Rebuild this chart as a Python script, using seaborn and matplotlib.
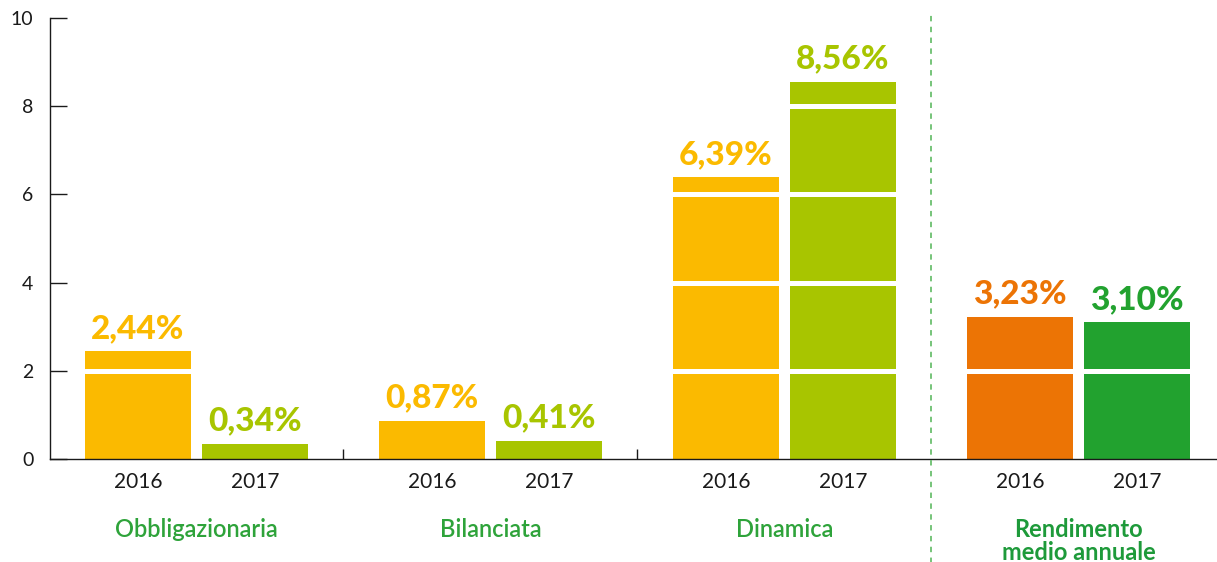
import pandas as pd
import seaborn as sns
from matplotlib import pyplot as plt
from matplotlib import transforms

# data
categorie = ["Obbligazionaria", "Bilanciata", "Dinamica", "Rendimento\nmedio annuale"]
anni = ["2016", "2017"]
valori_2016 = [2.44, 0.87, 6.39, 3.23]
valori_2017 = [0.34, 0.41, 8.56, 3.10]
colori_2016 = ["#FBBA00", "#FBBA00", "#FBBA00", "#EC7405"]
colori_2017 = ["#A8C500", "#A8C500", "#A8C500", "#22A22F"]

df = pd.DataFrame(
    {
        "categoria": categorie * 2,
        "anno": [anni[0]] * 4 + [anni[1]] * 4,
        "valore": valori_2016 + valori_2017,
    }
)

sns.set_style("ticks")
plt.rcParams["font.family"] = ["Lato", "DejaVu Sans"]

fig = plt.figure(figsize=(12.17, 5.62), dpi=100)
ax = fig.add_axes([50 / 1217, 103 / 562, 1167 / 1217, 441 / 562])

sns.barplot(
    df, x="categoria", y="valore", hue="anno",
    palette=["#FBBA00", "#A8C500"], width=0.796, gap=0.094,
    errorbar=None, legend=False, saturation=1, ax=ax,
)

# per-bar colours and value labels
xs = []
for cont, colori in zip(ax.containers, [colori_2016, colori_2017]):
    labels = [f"{b.get_height():.2f}".replace(".", ",") + "%" for b in cont]
    texts = ax.bar_label(cont, labels=labels, padding=6, fontsize=24, fontweight="black")
    for bar, txt, c in zip(cont, texts, colori):
        bar.set_facecolor(c)
        bar.set_edgecolor("none")
        txt.set_color(c)
        txt.set_zorder(6)
        xs.append(bar.get_x() + bar.get_width() / 2)

# white lines crossing the bars
for y in [2, 4, 6, 8]:
    ax.axhline(y, xmin=0.03, xmax=1, color="white", lw=3.6, zorder=3)

ax.set_ylim(0, 10)
ax.set_xlim(-0.498, 3.471)
ax.set_yticks([0, 2, 4, 6, 8, 10])
ax.tick_params(axis="y", direction="in", length=12.5, width=1, pad=12,
               labelsize=14, colors="#1a1a1a")

ax.set_xticks(sorted(xs), anni * 4)
ax.tick_params(axis="x", which="major", length=0, pad=9, labelsize=15,
               labelcolor="#1a1a1a")
ax.set_xticks([0.5, 1.5], minor=True)
ax.tick_params(axis="x", which="minor", direction="in", length=7, width=1, color="#1a1a1a")

ax.set_xlabel("")
ax.set_ylabel("")
sns.despine(ax=ax)
for s in ["left", "bottom"]:
    ax.spines[s].set_color("#1a1a1a")
    ax.spines[s].set_linewidth(1)

# group names
trans = transforms.blended_transform_factory(ax.transData, ax.transAxes)
for i, cat in enumerate(categorie):
    ultimo = i == len(categorie) - 1
    ax.text(i, -0.134, cat, transform=trans, ha="center", va="top",
            fontsize=17, linespacing=0.98,
            fontweight="bold" if ultimo else "semibold",
            color="#1E9A3A" if ultimo else "#2EA33A")

# dashed separator before the average
ax.axvline(2.5, ymin=-0.24, ymax=1.01, clip_on=False, color="#6BBF6E",
           lw=1.3, ls=(0, (3, 3)), zorder=5)

fig.savefig("out.png", dpi=100)
